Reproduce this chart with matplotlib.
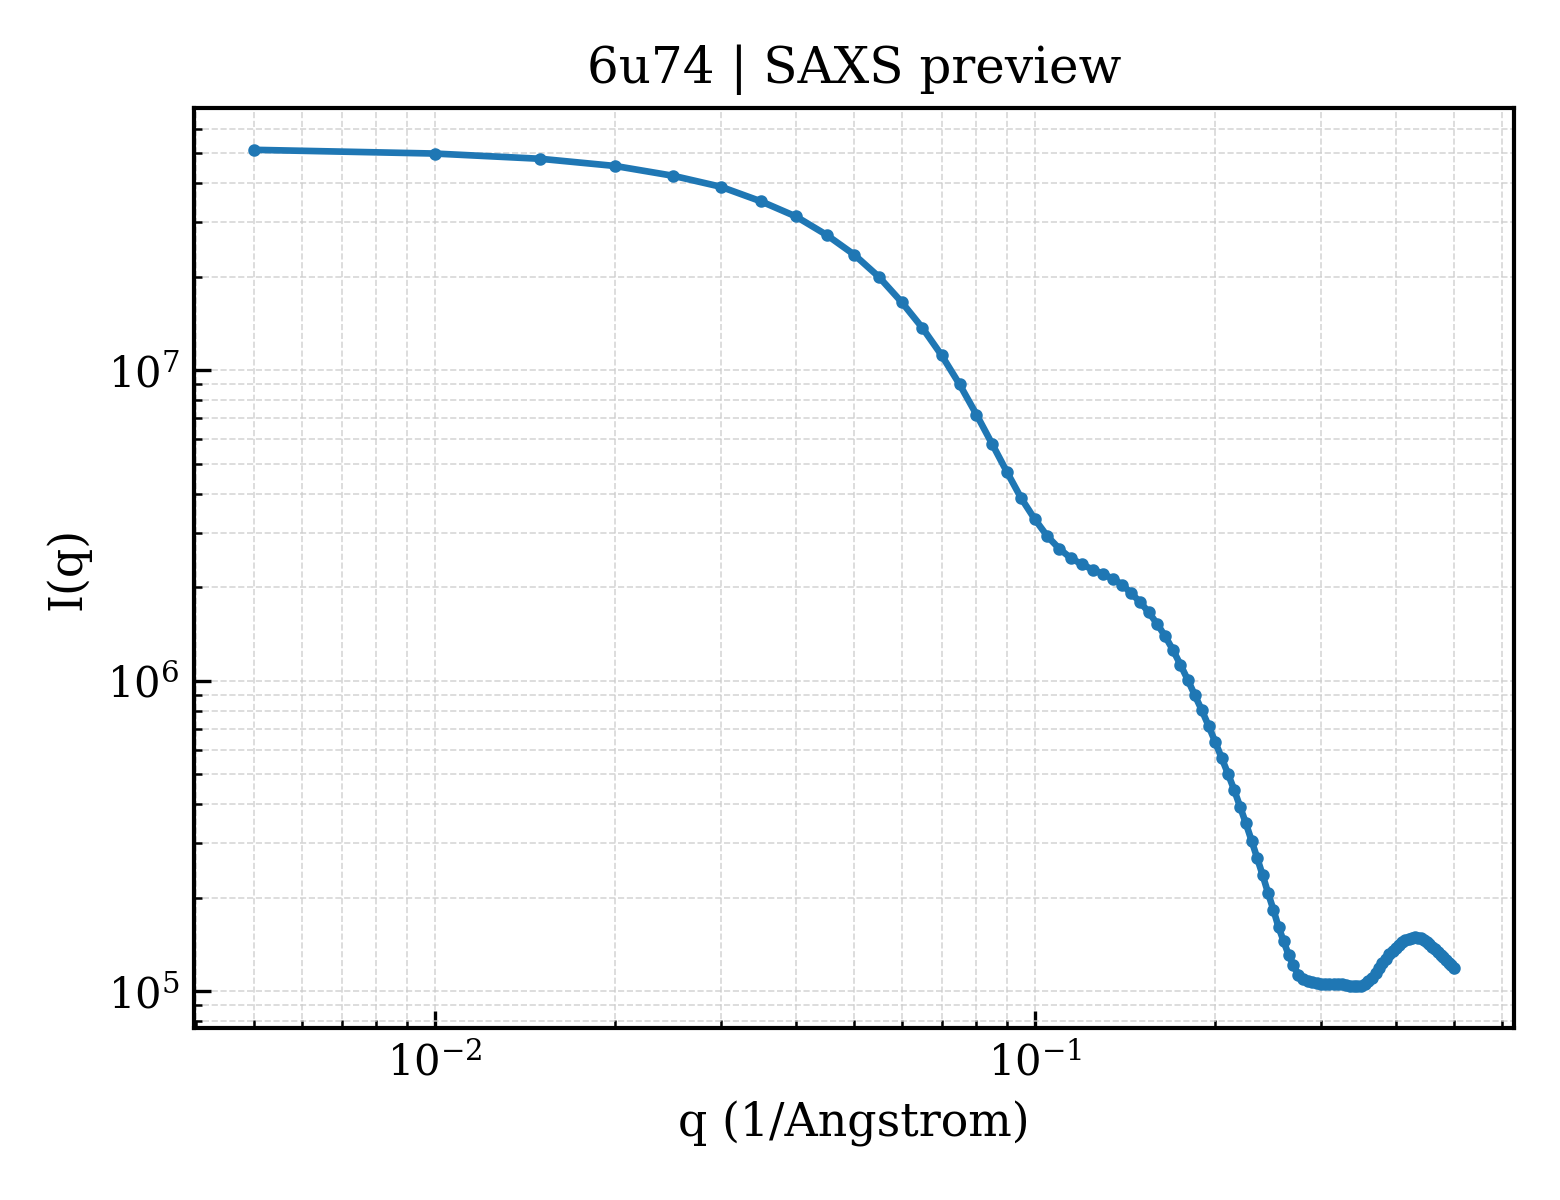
import matplotlib
matplotlib.use("Agg")
import matplotlib.pyplot as plt

plt.rcParams['font.family'] = ['DejaVu Serif']
plt.rcParams['mathtext.fontset'] = 'dejavuserif'

q = [0.005, 0.010, 0.015, 0.020, 0.025, 0.030, 0.035, 0.040, 0.045, 0.050,
     0.055, 0.060, 0.065, 0.070, 0.075, 0.080, 0.085, 0.090, 0.095, 0.100,
     0.105, 0.110, 0.115, 0.120, 0.125, 0.130, 0.135, 0.140, 0.145, 0.150,
     0.155, 0.160, 0.165, 0.170, 0.175, 0.180, 0.185, 0.190, 0.195, 0.200,
     0.205, 0.210, 0.215, 0.220, 0.225, 0.230, 0.235, 0.240, 0.245, 0.250,
     0.255, 0.260, 0.265, 0.270, 0.275, 0.280, 0.285, 0.290, 0.295, 0.300,
     0.305, 0.310, 0.315, 0.320, 0.325, 0.330, 0.335, 0.340, 0.345, 0.350,
     0.355, 0.360, 0.365, 0.370, 0.375, 0.380, 0.385, 0.390, 0.395, 0.400,
     0.405, 0.410, 0.415, 0.420, 0.425, 0.430, 0.435, 0.440, 0.445, 0.450,
     0.455, 0.460, 0.465, 0.470, 0.475, 0.480, 0.485, 0.490, 0.495, 0.500]

intensity = [5.13e7, 4.99e7, 4.80e7, 4.55e7, 4.23e7, 3.90e7, 3.50e7, 3.13e7, 2.73e7, 2.36e7,
             2.00e7, 1.66e7, 1.37e7, 1.117e7, 9.0e6, 7.2e6, 5.78e6, 4.69e6, 3.87e6, 3.32e6,
             2.92e6, 2.66e6, 2.48e6, 2.37e6, 2.28e6, 2.21e6, 2.13e6, 2.04e6, 1.91e6, 1.79e6,
             1.66e6, 1.525e6, 1.392e6, 1.258e6, 1.126e6, 1.007e6, 8.97e5, 8.03e5, 7.15e5, 6.35e5,
             5.64e5, 5.02e5, 4.46e5, 3.93e5, 3.47e5, 3.05e5, 2.68e5, 2.36e5, 2.07e5, 1.83e5,
             1.61e5, 1.45e5, 1.31e5, 1.215e5, 1.13e5, 1.098e5, 1.080e5, 1.067e5, 1.059e5, 1.053e5,
             1.053e5, 1.053e5, 1.053e5, 1.053e5, 1.052e5, 1.048e5, 1.043e5, 1.038e5, 1.038e5, 1.040e5,
             1.053e5, 1.076e5, 1.107e5, 1.143e5, 1.189e5, 1.230e5, 1.274e5, 1.315e5, 1.349e5, 1.379e5,
             1.410e5, 1.438e5, 1.459e5, 1.474e5, 1.485e5, 1.491e5, 1.487e5, 1.481e5, 1.462e5, 1.442e5,
             1.416e5, 1.389e5, 1.365e5, 1.338e5, 1.312e5, 1.286e5, 1.262e5, 1.237e5, 1.212e5, 1.189e5]

title = "6u74 | SAXS preview"
xlabel = "q (1/Angstrom)"
ylabel = "I(q)"

fig = plt.figure(figsize=(5.2, 4.0), dpi=300)
ax = fig.add_axes([194/1560, 1 - 1028/1200, (1514 - 194)/1560, (1028 - 108)/1200])

ax.plot(q, intensity, color='#1f77b4', lw=1.6, marker='o', markersize=2)
ax.set_xscale('log')
ax.set_yscale('log')

ax.grid(True, which='both', ls='--', lw=0.4, color='#cccccc', alpha=0.8)
ax.tick_params(which='both', direction='in', labelsize=10)
ax.tick_params(which='major', length=4)
ax.tick_params(which='minor', length=2)
for s in ax.spines.values():
    s.set_linewidth(1.0)

ax.set_title(title, fontsize=12)
ax.set_xlabel(xlabel, fontsize=11)
ax.set_ylabel(ylabel, fontsize=11)

fig.savefig("out.png", dpi=300)
